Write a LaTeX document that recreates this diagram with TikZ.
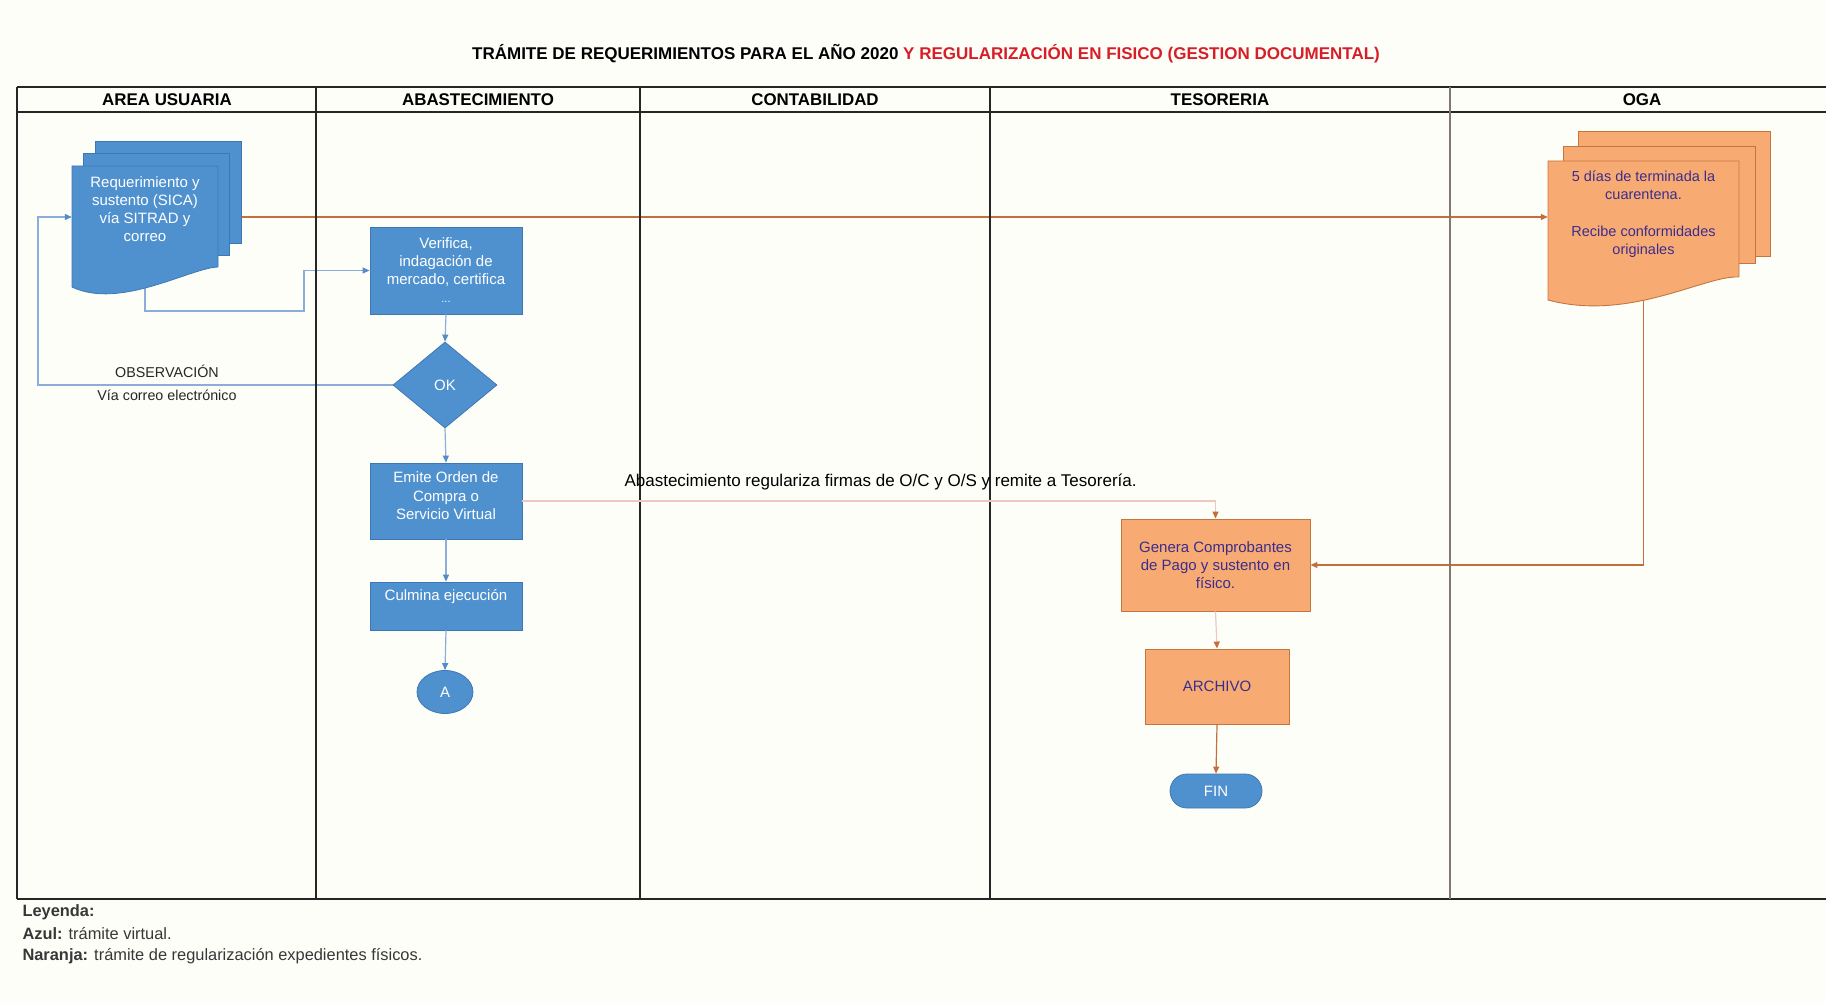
\documentclass[tikz,border=0pt]{standalone}
\usepackage{fontspec}
\setmainfont{Liberation Sans}
\usetikzlibrary{arrows.meta,shapes.geometric}
\definecolor{bgc}{RGB}{254,254,249}
\definecolor{bfill}{RGB}{79,145,206}
\definecolor{bedge}{RGB}{62,120,180}
\definecolor{blink}{RGB}{140,172,218}
\definecolor{barrow}{RGB}{85,140,200}
\definecolor{ofill}{RGB}{247,171,115}
\definecolor{oedge}{RGB}{196,118,62}
\definecolor{olink}{RGB}{196,110,60}
\definecolor{plink}{RGB}{236,200,192}
\definecolor{otext}{RGB}{60,45,140}
\definecolor{ttl}{RGB}{215,30,40}
\definecolor{lanegrey}{RGB}{130,120,110}
\definecolor{legtext}{RGB}{55,55,55}
\pgfdeclarelayer{bg}
\pgfdeclarelayer{links}
\pgfsetlayers{bg,links,main}
\begin{document}
\begin{tikzpicture}[x=1pt,y=-1pt,
  bluebox/.style={draw=bedge, fill=bfill, text=white, line width=0.8pt, inner sep=1pt, align=center, font=\fontsize{15}{18}\selectfont},
  orgbox/.style={draw=oedge, fill=ofill, text=otext, line width=0.9pt, inner sep=1pt, align=center, font=\fontsize{15}{18}\selectfont},
  bluedoc/.style={draw=bedge, fill=bfill, line width=0.8pt},
  orgdoc/.style={draw=oedge, fill=ofill, line width=0.9pt},
  lane/.style={line width=1.3pt, draw=black!85},
  hdr/.style={font=\bfseries\fontsize{16.9}{18}\selectfont},
  lbl/.style={font=\fontsize{14.3}{16}\selectfont, text=black!85},
  blueflow/.style={draw=blink, line width=1.2pt, -{Triangle[length=7pt,width=6pt,color=barrow]}},
  orgflow/.style={draw=olink, line width=1.2pt, -{Triangle[length=7pt,width=6pt]}},
  pinkflow/.style={draw=plink, line width=1.2pt, -{Triangle[length=7pt,width=6pt,color=olink]}},
  legend/.style={anchor=west, text=legtext, font=\fontsize{16.4}{18}\selectfont}
]
\begin{pgfonlayer}{bg}
\fill[bgc] (0,0) rectangle (1826,1003);
\end{pgfonlayer}
\useasboundingbox (0,0) rectangle (1826,1003);

% title
\node[font=\bfseries\fontsize{17}{20}\selectfont] (title) at (926,54)
  {TRÁMITE DE REQUERIMIENTOS PARA EL AÑO 2020 \textcolor{ttl}{Y REGULARIZACIÓN EN FISICO (GESTION DOCUMENTAL)}};

% lanes
\draw[lane] (17,87) -- (1826,87);
\draw[lane] (17,112) -- (1826,112);
\draw[lane] (17,899) -- (1826,899);
\draw[lane] (17,87) -- (17,899);
\draw[lane] (316,87) -- (316,899);
\draw[lane] (640,87) -- (640,899);
\draw[lane] (990,87) -- (990,899);
\draw[lane, draw=lanegrey] (1450,87) -- (1450,899);

\node[hdr] (h1) at (167,99.5) {AREA USUARIA};
\node[hdr] (h2) at (478,99.5) {ABASTECIMIENTO};
\node[hdr] (h3) at (815,99.5) {CONTABILIDAD};
\node[hdr] (h4) at (1220,99.5) {TESORERIA};
\node[hdr] (h5) at (1642,99.5) {OGA};

% blue multi-document
\filldraw[bluedoc] (95,141) rectangle (241,243);
\filldraw[bluedoc] (83,153) rectangle (229,255);
\filldraw[bluedoc] (72,166) -- (218,166) -- (218,267) .. controls (190,268) and (120,310) .. (72,287) -- cycle;
\node[minimum width=146pt, minimum height=102pt, inner sep=0pt] (req) at (145,217) {};
\node[text=white, align=center, font=\fontsize{15}{18}\selectfont] (reqtext) at (145,209.5)
  {Requerimiento y\\ sustento (SICA)\\ vía SITRAD y\\ correo};

% orange multi-document (OGA)
\filldraw[orgdoc] (1578,131) rectangle (1770,256);
\filldraw[orgdoc] (1563,146) rectangle (1755,263);
\filldraw[orgdoc] (1548,161) -- (1739,161) -- (1739,277) .. controls (1705,275) and (1630,322) .. (1548,300) -- cycle;
\node[minimum width=191pt, minimum height=112pt, inner sep=0pt] (oga) at (1643.5,217) {};
\node[text=otext, align=center, font=\fontsize{14.5}{18.5}\selectfont] (ogatext) at (1643.5,214)
  {5 días de terminada la\\ cuarentena.\\[18pt] Recibe conformidades\\ originales};

% abastecimiento column
\node[bluebox, minimum width=152pt, minimum height=87pt] (ver) at (446,270.5)
  {Verifica,\\ indagación de\\ mercado, certifica\\ {\fontsize{11}{14}\selectfont ...}};
\node[bluebox, shape=diamond, minimum width=104pt, minimum height=86pt, inner sep=0pt] (ok) at (445,385) {OK};
\node[bluebox, minimum width=152pt, minimum height=76pt] (emite) at (446,501) {};
\node[text=white, align=center, font=\fontsize{15}{18.5}\selectfont] (emitetext) at (446,496)
  {Emite Orden de\\ Compra o\\ Servicio Virtual};
\node[bluebox, minimum width=152pt, minimum height=48pt] (culm) at (446,606) {};
\node[text=white, font=\fontsize{15}{18}\selectfont] (culmtext) at (446,597) {Culmina ejecución};
\node[bluebox, shape=ellipse, minimum width=56pt, minimum height=43pt, inner sep=0pt] (A) at (445,692) {A};

\node[lbl] (obs1) at (167,371) {OBSERVACIÓN};
\node[lbl] (obs2) at (167,395) {Vía correo electrónico};

% tesoreria column
\node[orgbox, minimum width=189pt, minimum height=92pt] (gen) at (1215.5,565)
  {Genera Comprobantes\\ de Pago y sustento en\\ físico.};
\node[orgbox, minimum width=144pt, minimum height=75pt] (arch) at (1217,686.5) {ARCHIVO};
\node[bluebox, rounded corners=17pt, minimum width=92pt, minimum height=34pt] (fin) at (1216,791) {FIN};

\node[anchor=west, font=\fontsize{17}{18}\selectfont] (abaslbl) at (621,482)
  {Abastecimiento regulariza firmas de O/C y O/S y remite a Tesorería.};

% legend
\node[legend] (ley1) at (19,912) {\textbf{Leyenda:}};
\node[legend] (ley2) at (19,934) {\textbf{Azul:} trámite virtual.};
\node[legend] (ley3) at (19,956) {\textbf{Naranja:} trámite de regularización expedientes físicos.};

% connectors
\coordinate (loopc) at (38,217);
\coordinate (bend1) at (304,311);
\begin{pgfonlayer}{links}
\draw[orgflow] (req.east) -- (oga.west);
\draw[blueflow] (req.south) |- (bend1) |- (ver.west);
\draw[blueflow] (ok.west) -| (loopc) -- (req.west);
\draw[orgflow] (oga.south) |- (gen.east);
\end{pgfonlayer}
\draw[blueflow] (ver.south) -- (ok.north);
\draw[blueflow] (ok.south) -- (emite.north);
\draw[blueflow] (emite.south) -- (culm.north);
\draw[blueflow] (culm.south) -- (A.north);
\draw[pinkflow] (emite.east) -| (gen.north);
\draw[pinkflow] (gen.south) -- (arch.north);
\draw[orgflow] (arch.south) -- (fin.north);
\end{tikzpicture}
\end{document}
